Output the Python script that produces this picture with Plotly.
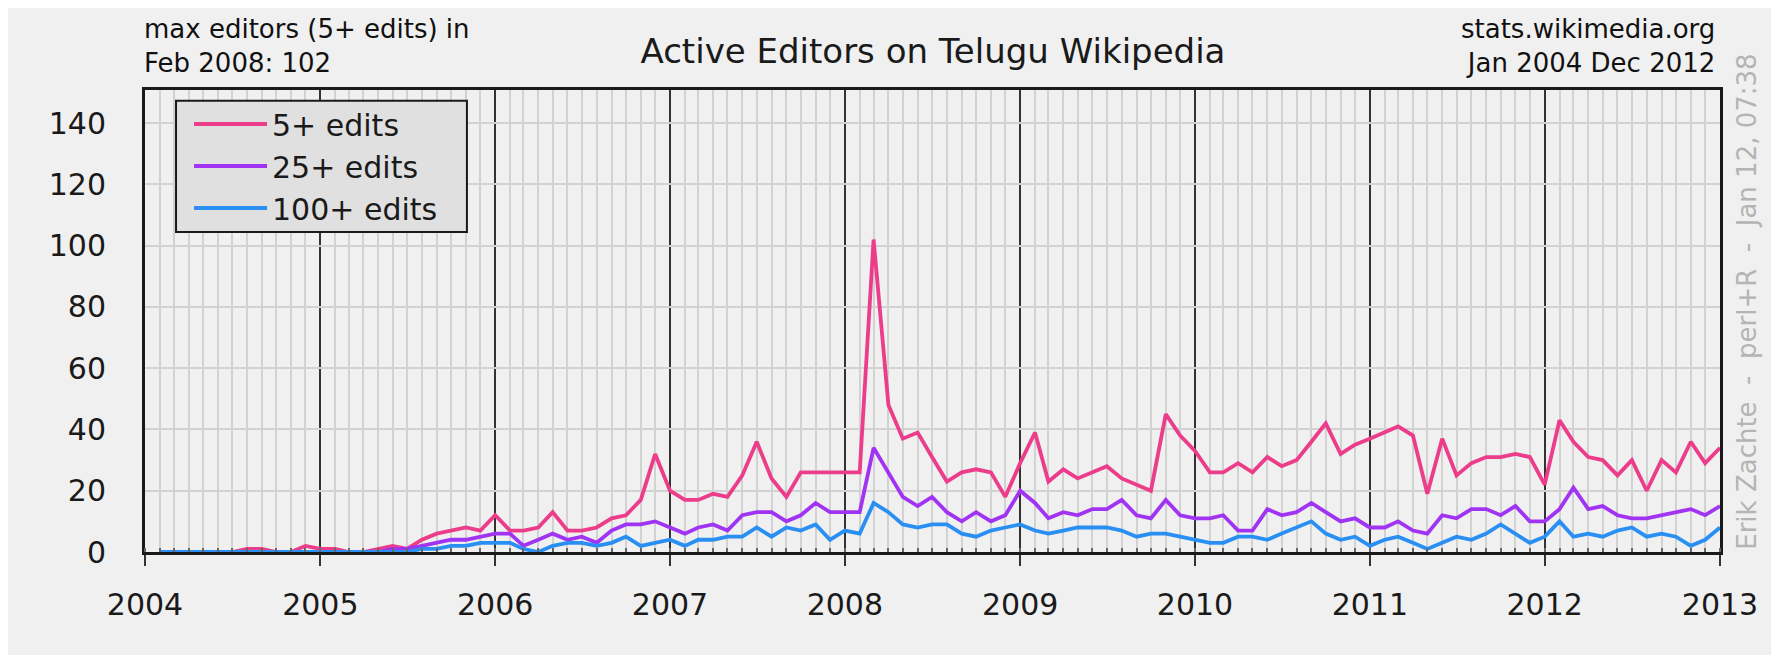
import pandas as pd
import plotly.graph_objects as go

# ---------------- data (monthly, Jan 2004 .. Dec 2012) ----------------
years = list(range(2004, 2013))

edits_5 = [
    0, 0, 0, 0, 0, 0, 1, 1, 0, 0, 2, 1,            # 2004
    1, 0, 0, 1, 2, 1, 4, 6, 7, 8, 7, 12,           # 2005
    7, 7, 8, 13, 7, 7, 8, 11, 12, 17, 32, 20,      # 2006
    17, 17, 19, 18, 25, 36, 24, 18, 26, 26, 26, 26,  # 2007
    26, 102, 48, 37, 39, 31, 23, 26, 27, 26, 18, 29,  # 2008
    39, 23, 27, 24, 26, 28, 24, 22, 20, 45, 38, 33,  # 2009
    26, 26, 29, 26, 31, 28, 30, 36, 42, 32, 35, 37,  # 2010
    39, 41, 38, 19, 37, 25, 29, 31, 31, 32, 31, 22,  # 2011
    43, 36, 31, 30, 25, 30, 20, 30, 26, 36, 29, 34,  # 2012
]
edits_25 = [
    0, 0, 0, 0, 0, 0, 0, 0, 0, 0, 0, 0,
    0, 0, 0, 0, 1, 1, 2, 3, 4, 4, 5, 6,
    6, 2, 4, 6, 4, 5, 3, 7, 9, 9, 10, 8,
    6, 8, 9, 7, 12, 13, 13, 10, 12, 16, 13, 13,
    13, 34, 26, 18, 15, 18, 13, 10, 13, 10, 12, 20,
    16, 11, 13, 12, 14, 14, 17, 12, 11, 17, 12, 11,
    11, 12, 7, 7, 14, 12, 13, 16, 13, 10, 11, 8,
    8, 10, 7, 6, 12, 11, 14, 14, 12, 15, 10, 10,
    14, 21, 14, 15, 12, 11, 11, 12, 13, 14, 12, 15,
]
edits_100 = [
    0, 0, 0, 0, 0, 0, 0, 0, 0, 0, 0, 0,
    0, 0, 0, 0, 0, 0, 1, 1, 2, 2, 3, 3,
    3, 1, 0, 2, 3, 3, 2, 3, 5, 2, 3, 4,
    2, 4, 4, 5, 5, 8, 5, 8, 7, 9, 4, 7,
    6, 16, 13, 9, 8, 9, 9, 6, 5, 7, 8, 9,
    7, 6, 7, 8, 8, 8, 7, 5, 6, 6, 5, 4,
    3, 3, 5, 5, 4, 6, 8, 10, 6, 4, 5, 2,
    4, 5, 3, 1, 3, 5, 4, 6, 9, 6, 3, 5,
    10, 5, 6, 5, 7, 8, 5, 6, 5, 2, 4, 8,
]
series_names = ["5+ edits", "25+ edits", "100+ edits"]
series_colors = ["#ec3d8b", "#a134f2", "#2a8ff2"]
y_ticks = [0, 20, 40, 60, 80, 100, 120, 140]
x_tick_labels = [str(y) for y in range(2004, 2014)]

# each month is plotted at the end of the month (start of the next one)
months = pd.date_range("2004-01-01", periods=len(edits_5), freq="MS")
x_pos = months + pd.offsets.MonthBegin(1)

BG = "#f0f0f0"
FONT = "DejaVu Sans"

fig = go.Figure()
for name, vals, col in zip(series_names, [edits_5, edits_25, edits_100], series_colors):
    fig.add_trace(go.Scatter(x=x_pos, y=vals, mode="lines", name=name,
                             line=dict(color=col, width=3.8)))

fig.update_layout(
    width=1781, height=655,
    margin=dict(l=137, r=69, t=82, b=111),
    paper_bgcolor=BG, plot_bgcolor=BG,
    font=dict(family=FONT, color="#1a1a1a", size=30),
    title=dict(text="Active Editors on Telugu Wikipedia", xref="container", yref="container",
               x=925 / 1781, y=0.9344, xanchor="center", yanchor="middle",
               font=dict(size=34, color="#1a1a1a")),
    showlegend=True,
    legend=dict(x=0.0197, y=0.8355, xanchor="left", yanchor="middle",
                bgcolor="rgba(0,0,0,0)", borderwidth=0,
                font=dict(size=30, color="#1a1a1a"),
                itemwidth=73, indentation=13),
)

# legend frame (box behind the legend entries)
fig.add_shape(type="rect", xref="paper", yref="paper",
              x0=0.0197, x1=0.2044, y0=0.6926, y1=0.9768,
              fillcolor="#e0e0e0", line=dict(color="#1a1a1a", width=2), layer="above")

fig.update_xaxes(
    type="date", range=["2004-01-01", "2013-01-01"],
    tickvals=[f"{y}-01-01" for y in range(2004, 2014)], ticktext=x_tick_labels,
    showgrid=True, gridcolor="#333333", gridwidth=2,
    ticks="outside", ticklen=11, tickwidth=2, tickcolor="#333333",
    ticklabelstandoff=13,
    showline=True, linecolor="#1a1a1a", linewidth=3, mirror=True,
    zeroline=False,
    minor=dict(dtick="M1", showgrid=True, gridcolor="#d2d2d2", gridwidth=2,
               ticks="inside", ticklen=4, tickcolor="#666666", tickwidth=1.5),
    tickfont=dict(size=30),
)
fig.update_yaxes(
    range=[0, 150.8], tickvals=y_ticks,
    showgrid=True, gridcolor="#d2d2d2", gridwidth=2,
    ticks="", ticklabelstandoff=30,
    showline=True, linecolor="#1a1a1a", linewidth=3, mirror=True,
    zeroline=False, tickfont=dict(size=30),
)

# header texts
fig.add_annotation(text="max editors (5+ edits) in<br>Feb 2008: 102",
                   xref="paper", yref="paper", x=-0.0019, y=1.095,
                   xanchor="left", yanchor="middle", align="left",
                   showarrow=False, font=dict(size=26, color="#111111"))
fig.add_annotation(text="stats.wikimedia.org<br>Jan 2004 Dec 2012",
                   xref="paper", yref="paper", x=0.9978, y=1.095,
                   xanchor="right", yanchor="middle", align="right",
                   showarrow=False, font=dict(size=26, color="#111111"))
fig.add_annotation(text="Erik Zachte  -  perl+R  -  Jan 12, 07:38",
                   xref="paper", yref="paper", x=1.017, y=0.0,
                   xanchor="center", yanchor="bottom", textangle=-90,
                   showarrow=False, font=dict(size=26, color="#b4b4b4"))

# white strip at the right edge of the image
fig.add_shape(type="rect", xref="paper", yref="paper", x0=1.0324, x1=1.2,
              y0=-0.5, y1=1.5, fillcolor="white", line=dict(width=0), layer="below")

fig.write_html("out.html", config={"displayModeBar": False})
